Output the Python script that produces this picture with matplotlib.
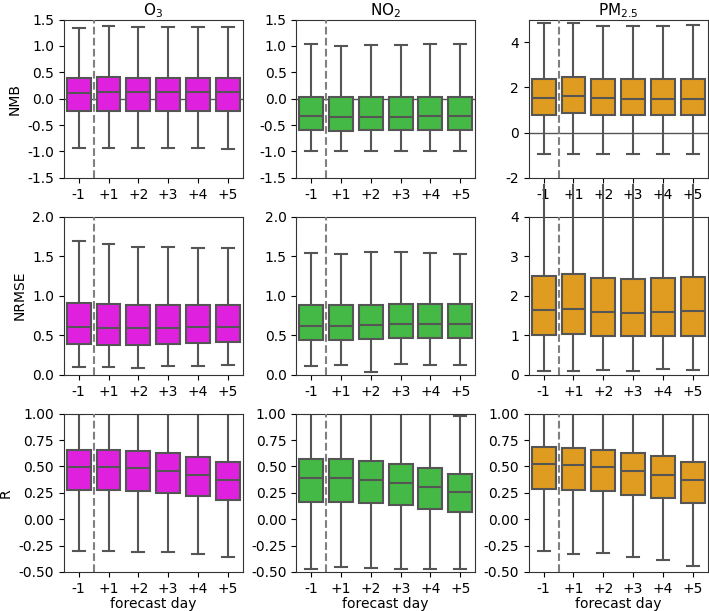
import matplotlib
matplotlib.use("Agg")
import matplotlib.pyplot as plt
from matplotlib.ticker import FormatStrFormatter

days = ["-1", "+1", "+2", "+3", "+4", "+5"]
species = ["O$_3$", "NO$_2$", "PM$_{2.5}$"]
metrics = ["NMB", "NRMSE", "R"]
colors = ["#DF20DF", "#45B945", "#DF9C20"]

# ---- NMB ----
o3_nmb_lo = [-0.93, -0.93, -0.93, -0.94, -0.93, -0.95]
o3_nmb_q1 = [-0.23, -0.24, -0.24, -0.24, -0.24, -0.24]
o3_nmb_med = [0.11, 0.13, 0.13, 0.13, 0.13, 0.13]
o3_nmb_q3 = [0.39, 0.41, 0.40, 0.40, 0.40, 0.40]
o3_nmb_hi = [1.34, 1.38, 1.35, 1.35, 1.35, 1.35]

no2_nmb_lo = [-1.00, -1.00, -1.00, -1.00, -1.00, -1.00]
no2_nmb_q1 = [-0.59, -0.61, -0.60, -0.60, -0.60, -0.60]
no2_nmb_med = [-0.32, -0.34, -0.35, -0.34, -0.33, -0.33]
no2_nmb_q3 = [0.04, 0.03, 0.03, 0.03, 0.03, 0.03]
no2_nmb_hi = [1.04, 1.00, 1.02, 1.02, 1.03, 1.03]

pm_nmb_lo = [-0.96, -0.96, -0.96, -0.96, -0.96, -0.96]
pm_nmb_q1 = [0.77, 0.86, 0.77, 0.77, 0.77, 0.77]
pm_nmb_med = [1.55, 1.61, 1.51, 1.48, 1.49, 1.49]
pm_nmb_q3 = [2.38, 2.44, 2.35, 2.35, 2.35, 2.36]
pm_nmb_hi = [4.83, 4.83, 4.72, 4.72, 4.72, 4.77]

# ---- NRMSE ----
o3_nrmse_lo = [0.10, 0.10, 0.09, 0.11, 0.11, 0.13]
o3_nrmse_q1 = [0.39, 0.38, 0.38, 0.39, 0.40, 0.41]
o3_nrmse_med = [0.60, 0.59, 0.59, 0.59, 0.60, 0.60]
o3_nrmse_q3 = [0.91, 0.89, 0.88, 0.88, 0.88, 0.88]
o3_nrmse_hi = [1.69, 1.65, 1.62, 1.61, 1.60, 1.60]

no2_nrmse_lo = [0.11, 0.12, 0.03, 0.14, 0.13, 0.12]
no2_nrmse_q1 = [0.44, 0.44, 0.45, 0.46, 0.47, 0.47]
no2_nrmse_med = [0.62, 0.62, 0.63, 0.64, 0.64, 0.64]
no2_nrmse_q3 = [0.88, 0.88, 0.88, 0.89, 0.89, 0.89]
no2_nrmse_hi = [1.54, 1.53, 1.55, 1.55, 1.54, 1.53]

pm_nrmse_lo = [0.11, 0.10, 0.13, 0.11, 0.15, 0.13]
pm_nrmse_q1 = [1.00, 1.04, 0.98, 0.97, 0.97, 0.99]
pm_nrmse_med = [1.65, 1.67, 1.58, 1.57, 1.59, 1.61]
pm_nrmse_q3 = [2.50, 2.54, 2.46, 2.43, 2.45, 2.47]
pm_nrmse_hi = [4.80, 4.80, 4.80, 4.80, 4.80, 4.80]

# ---- R ----
o3_r_lo = [-0.30, -0.30, -0.31, -0.31, -0.33, -0.355]
o3_r_q1 = [0.28, 0.28, 0.27, 0.25, 0.22, 0.18]
o3_r_med = [0.49, 0.49, 0.48, 0.46, 0.42, 0.375]
o3_r_q3 = [0.655, 0.66, 0.65, 0.63, 0.585, 0.54]
o3_r_hi = [1.00, 1.00, 1.00, 1.00, 1.00, 1.00]

no2_r_lo = [-0.47, -0.45, -0.46, -0.47, -0.475, -0.47]
no2_r_q1 = [0.16, 0.165, 0.15, 0.13, 0.10, 0.07]
no2_r_med = [0.39, 0.39, 0.37, 0.34, 0.30, 0.26]
no2_r_q3 = [0.57, 0.57, 0.55, 0.52, 0.48, 0.43]
no2_r_hi = [1.00, 1.00, 1.00, 1.00, 1.00, 0.98]

pm_r_lo = [-0.30, -0.33, -0.325, -0.36, -0.39, -0.44]
pm_r_q1 = [0.29, 0.28, 0.265, 0.23, 0.20, 0.15]
pm_r_med = [0.52, 0.51, 0.49, 0.46, 0.42, 0.37]
pm_r_q3 = [0.68, 0.675, 0.66, 0.63, 0.595, 0.54]
pm_r_hi = [1.00, 1.00, 1.00, 1.00, 1.00, 1.00]

panels = [
    [(o3_nmb_lo, o3_nmb_q1, o3_nmb_med, o3_nmb_q3, o3_nmb_hi),
     (no2_nmb_lo, no2_nmb_q1, no2_nmb_med, no2_nmb_q3, no2_nmb_hi),
     (pm_nmb_lo, pm_nmb_q1, pm_nmb_med, pm_nmb_q3, pm_nmb_hi)],
    [(o3_nrmse_lo, o3_nrmse_q1, o3_nrmse_med, o3_nrmse_q3, o3_nrmse_hi),
     (no2_nrmse_lo, no2_nrmse_q1, no2_nrmse_med, no2_nrmse_q3, no2_nrmse_hi),
     (pm_nrmse_lo, pm_nrmse_q1, pm_nrmse_med, pm_nrmse_q3, pm_nrmse_hi)],
    [(o3_r_lo, o3_r_q1, o3_r_med, o3_r_q3, o3_r_hi),
     (no2_r_lo, no2_r_q1, no2_r_med, no2_r_q3, no2_r_hi),
     (pm_r_lo, pm_r_q1, pm_r_med, pm_r_q3, pm_r_hi)],
]

ylims = [[(-1.5, 1.5), (-1.5, 1.5), (-2, 5)],
         [(0, 2), (0, 2), (0, 4)],
         [(-0.5, 1.0), (-0.5, 1.0), (-0.5, 1.0)]]
yticks = [[[-1.5, -1.0, -0.5, 0.0, 0.5, 1.0, 1.5]] * 2 + [[-2, 0, 2, 4]],
          [[0.0, 0.5, 1.0, 1.5, 2.0]] * 2 + [[0, 1, 2, 3, 4]],
          [[-0.5, -0.25, 0.0, 0.25, 0.5, 0.75, 1.0]] * 3]
yfmt = [["%.1f", "%.1f", "%d"], ["%.1f", "%.1f", "%d"], ["%.2f", "%.2f", "%.2f"]]

plt.rcParams["font.family"] = "DejaVu Sans"
plt.rcParams["font.size"] = 10
fig, axes = plt.subplots(3, 3, figsize=(7.09, 6.11), dpi=100)
fig.subplots_adjust(left=0.090, right=0.998, top=0.968, bottom=0.064,
                    wspace=0.30, hspace=0.245)

line_c = "#555555"
for r in range(3):
    for c in range(3):
        ax = axes[r][c]
        lo, q1, med, q3, hi = panels[r][c]
        stats = [dict(whislo=lo[i], q1=q1[i], med=med[i], q3=q3[i], whishi=hi[i],
                      label=days[i]) for i in range(len(days))]
        if r == 0:
            ax.axhline(0, color=line_c, lw=1.0, zorder=0.5)
        bp = ax.bxp(stats, positions=range(len(days)), widths=0.8,
                    showfliers=False, patch_artist=True, zorder=2,
                    boxprops=dict(facecolor=colors[c], edgecolor=line_c, linewidth=1.5),
                    medianprops=dict(color=line_c, linewidth=1.5),
                    whiskerprops=dict(color=line_c, linewidth=1.5),
                    capprops=dict(color=line_c, linewidth=1.5),
                    capwidths=0.4)
        if r == 1 and c == 2:
            for i, w in enumerate(bp["whiskers"]):
                if i % 2 == 1:
                    w.set_clip_on(False)
                    w.set_zorder(5)
            for i, cp in enumerate(bp["caps"]):
                if i % 2 == 1:
                    cp.set_visible(False)
        ax.axvline(0.5, color="#808080", lw=1.5, ls="--", zorder=3)
        ax.set_xlim(-0.5, len(days) - 0.5)
        ax.set_xticks(range(len(days)))
        ax.set_xticklabels(days)
        ax.set_ylim(*ylims[r][c])
        ax.set_yticks(yticks[r][c])
        ax.yaxis.set_major_formatter(FormatStrFormatter(yfmt[r][c]))
        for sp in ax.spines.values():
            sp.set_color("#333333")
        if c == 0:
            ax.set_ylabel(metrics[r])
        if r == 0:
            ax.set_title(species[c], fontsize=11, pad=2)
        if r == 2:
            ax.set_xlabel("forecast day", labelpad=1)

fig.savefig("out.png", dpi=100)
